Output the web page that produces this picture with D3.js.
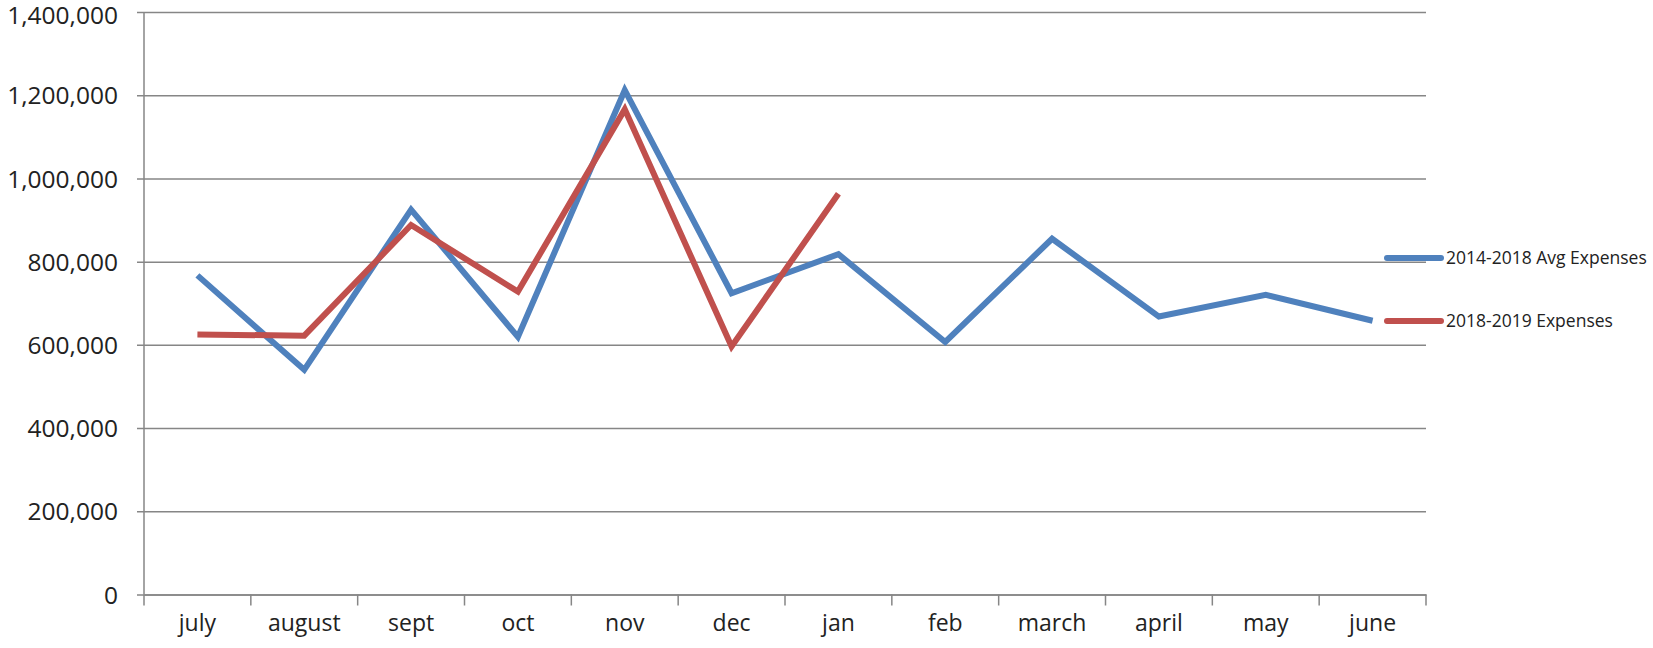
<!DOCTYPE html>
<html><head><meta charset="utf-8">
<script src="https://cdn.jsdelivr.net/npm/d3@7"></script>
<style>
html,body{margin:0;padding:0;background:#fff;}
svg{display:block;}
text{font-family:"Open Sans","Noto Sans",sans-serif;fill:#222;}
</style></head>
<body>
<svg id="chart" width="1653" height="648"></svg>
<script>
const months = ["july","august","sept","oct","nov","dec","jan","feb","march","april","may","june"];
const avgExpenses = [767000,540000,925000,619000,1212000,724000,818000,607000,855000,668000,720000,658000];
const expenses1819 = [625000,622000,888000,728000,1166000,596000,963000];
const seriesNames = ["2014-2018 Avg Expenses","2018-2019 Expenses"];
const seriesColors = ["#4F81BD","#C0504D"];
const yTicks = [0,200000,400000,600000,800000,1000000,1200000,1400000];

const svg = d3.select("#chart");
const mLeft = 144, mRight = 1426, mTop = 12, mBottom = 594.5;

const x = d3.scaleBand().domain(months).range([mLeft, mRight]).padding(0);
const y = d3.scaleLinear().domain([0,1400000]).range([mBottom, mTop]);

// gridlines + y axis labels
const yAxis = d3.axisLeft(y).tickValues(yTicks).tickFormat(d3.format(","))
  .tickSize(-(mRight-mLeft)).tickPadding(26);
const gy = svg.append("g").attr("transform",`translate(${mLeft},0)`).call(yAxis);
gy.select(".domain").remove();
gy.selectAll(".tick line").attr("stroke","#868686").attr("stroke-width",1.5).attr("x1",-7);
gy.selectAll(".tick text").attr("font-size",24.5).attr("fill","#222")
  .attr("dy", d => d === 1400000 ? "0.45em" : "0.35em");

// vertical axis line
svg.append("line").attr("x1",mLeft).attr("x2",mLeft).attr("y1",y(1400000)).attr("y2",mBottom)
  .attr("stroke","#868686").attr("stroke-width",1.5);

// x axis
const xAxis = d3.axisBottom(x).tickSize(0).tickPadding(20);
const gx = svg.append("g").attr("transform",`translate(0,${mBottom})`).call(xAxis);
gx.select(".domain").attr("stroke","#868686").attr("stroke-width",1.5);
gx.selectAll(".tick text").attr("font-size",23).attr("fill","#222");
// boundary ticks
const bounds = months.map(m => x(m)).concat([x(months[months.length-1]) + x.bandwidth()]);
gx.selectAll(".btick").data(bounds).enter().append("line").attr("class","btick")
  .attr("x1",d=>d).attr("x2",d=>d).attr("y1",0).attr("y2",11)
  .attr("stroke","#868686").attr("stroke-width",1.5);

const cx = m => x(m) + x.bandwidth()/2;
const line = d3.line().x(d => cx(d.m)).y(d => y(d.v));

const data = [
  avgExpenses.map((v,i)=>({m:months[i],v})),
  expenses1819.map((v,i)=>({m:months[i],v}))
];
data.forEach((d,i) => {
  svg.append("path").datum(d).attr("d",line).attr("fill","none")
    .attr("stroke",seriesColors[i]).attr("stroke-width",6)
    .attr("stroke-linejoin","miter").attr("stroke-linecap","butt");
});

// legend
const legY = [258, 321];
seriesNames.forEach((n,i) => {
  const g = svg.append("g");
  g.append("line").attr("x1",1387).attr("x2",1441).attr("y1",legY[i]).attr("y2",legY[i])
    .attr("stroke",seriesColors[i]).attr("stroke-width",6).attr("stroke-linecap","round");
  g.append("text").attr("x",1446).attr("y",legY[i]).attr("dy","0.35em")
    .attr("font-size",17.5).attr("fill","#222").text(n);
});
</script>
</body></html>
